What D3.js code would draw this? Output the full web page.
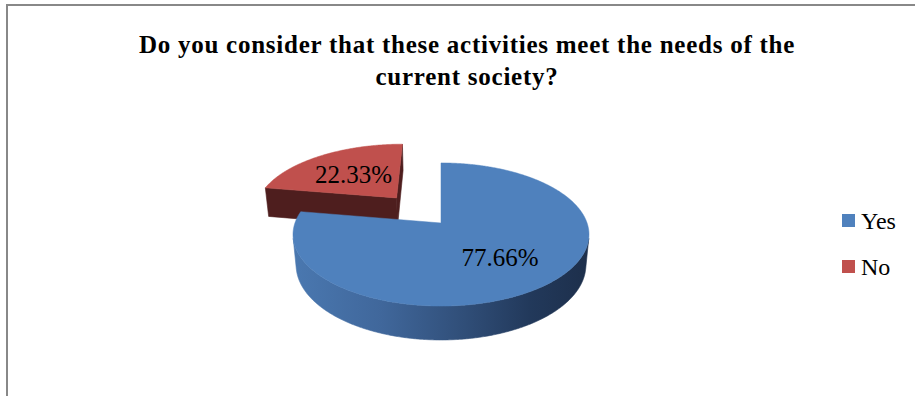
<!DOCTYPE html>
<html>
<head>
<meta charset="utf-8">
<script src="https://cdn.jsdelivr.net/npm/d3@7"></script>
<style>
  html, body { margin: 0; padding: 0; background: #fff; }
  svg { display: block; }
  text { font-family: "Liberation Serif", "Times New Roman", Tinos, "DejaVu Serif", serif; }
</style>
</head>
<body>
<svg id="chart" width="915" height="396"></svg>
<script>
// ---- data ----
const categories = ["Yes", "No"];
const values = [77.66, 22.33];
const valueLabels = ["77.66%", "22.33%"];
const colors = ["#4F81BD", "#C0504D"];
const explodeAmount = [0, 0.5];
const titleLines = ["Do you consider that these activities meet the needs of the", "current society?"];

// ---- layout / projection ----
const W = 915, H = 396;
const svg = d3.select("#chart");
const cx = 441, cy = 223, f = 799, d0 = 5.47;
const elev = 28.5 * Math.PI / 180;
const s = Math.sin(elev), c = Math.cos(elev);
const depth = 0.241;

function proj(u, v, z) {
  const Y = v * s + z * c;
  const D = d0 + v * c - z * s;
  return [cx + f * u / D, cy - f * Y / D];
}
const cam = [0, -d0 * c, d0 * s];

const pie = d3.pie().sort(null).value(d => d);
const arcs = pie(values);

const defs = svg.append("defs");

svg.append("path")
  .attr("d", `M7,${H} V5 H${W}`)
  .attr("fill", "none").attr("stroke", "#888").attr("stroke-width", 2);

const line = d3.line();

function rimPoint(cu, cv, th, z) {
  return proj(cu + Math.sin(th), cv + Math.cos(th), z);
}
function sampleAngles(a0, a1) {
  const n = Math.max(2, Math.ceil((a1 - a0) / (Math.PI / 360)));
  return d3.range(n + 1).map(i => a0 + (a1 - a0) * i / n);
}

const sideShades = {
  0: [["0", "#4a78b0"], ["0.3", "#40679b"], ["0.58", "#304e78"], ["0.8", "#22395b"], ["1", "#1d2f4b"]],
  1: [["0", "#5a2424"], ["1", "#3e1818"]]
};
const radialColor = ["#2b4668", "#4e1e1e"];

const order = [1, 0];
const gPie = svg.append("g");

order.forEach(i => {
  const a = arcs[i];
  const mid = (a.startAngle + a.endAngle) / 2;
  const cu = explodeAmount[i] * Math.sin(mid);
  const cv = explodeAmount[i] * Math.cos(mid);
  const angles = sampleAngles(a.startAngle, a.endAngle);

  const vis = th => (-1 - cu * Math.sin(th) - (d0 * c + cv) * Math.cos(th)) > 0;
  let runs = [], cur = [];
  angles.forEach(th => {
    if (vis(th)) cur.push(th);
    else if (cur.length) { runs.push(cur); cur = []; }
  });
  if (cur.length) runs.push(cur);

  runs.forEach((run, k) => {
    const top = run.map(th => rimPoint(cu, cv, th, 0));
    const bot = run.slice().reverse().map(th => rimPoint(cu, cv, th, -depth));
    const pts = top.concat(bot);
    const xs = pts.map(p => p[0]);
    const gid = `side${i}_${k}`;
    const grad = defs.append("linearGradient").attr("id", gid)
      .attr("gradientUnits", "userSpaceOnUse")
      .attr("x1", d3.min(xs)).attr("x2", d3.max(xs)).attr("y1", 0).attr("y2", 0);
    sideShades[i].forEach(st => grad.append("stop").attr("offset", st[0]).attr("stop-color", st[1]));
    gPie.append("path").attr("d", line(pts) + "Z").attr("fill", `url(#${gid})`)
      .attr("stroke", `url(#${gid})`).attr("stroke-width", 0.6);
  });

  [[a.startAngle, -1], [a.endAngle, 1]].forEach(([th, sign]) => {
    const N = sign > 0 ? [Math.cos(th), -Math.sin(th)] : [-Math.cos(th), Math.sin(th)];
    const dot = N[0] * (cam[0] - cu) + N[1] * (cam[1] - cv);
    if (dot <= 0.001) return;
    const pts = [proj(cu, cv, 0), rimPoint(cu, cv, th, 0), rimPoint(cu, cv, th, -depth), proj(cu, cv, -depth)];
    gPie.append("path").attr("d", line(pts) + "Z").attr("fill", radialColor[i])
      .attr("stroke", radialColor[i]).attr("stroke-width", 0.6);
  });

  const topPts = [proj(cu, cv, 0)].concat(angles.map(th => rimPoint(cu, cv, th, 0)));
  gPie.append("path").attr("d", line(topPts) + "Z").attr("fill", colors[i])
    .attr("stroke", colors[i]).attr("stroke-width", 0.5);
});

const labelR = [0.6, 0.52];
arcs.forEach((a, i) => {
  const mid = (a.startAngle + a.endAngle) / 2;
  const e = explodeAmount[i] + labelR[i];
  const p = proj(e * Math.sin(mid), e * Math.cos(mid), 0);
  svg.append("text").attr("x", p[0] - 2).attr("y", p[1]).attr("dy", "0.35em")
    .attr("text-anchor", "middle")
    .style("font-size", "25px").attr("fill", "#000")
    .text(valueLabels[i]);
});

svg.append("g").selectAll("text").data(titleLines).join("text")
  .attr("x", 467).attr("y", (d, i) => 53 + i * 32)
  .attr("text-anchor", "middle")
  .style("font-weight", "bold").style("font-size", "25px")
  .style("letter-spacing", "0.75px")
  .text(d => d);

const lg = svg.append("g").attr("transform", "translate(842,214)");
categories.forEach((cat, i) => {
  const g = lg.append("g").attr("transform", `translate(0,${i * 46})`);
  g.append("rect").attr("width", 13).attr("height", 13).attr("fill", colors[i]);
  g.append("text").attr("x", 19).attr("y", 15)
    .style("font-size", "24px").text(cat);
});
</script>
</body>
</html>
